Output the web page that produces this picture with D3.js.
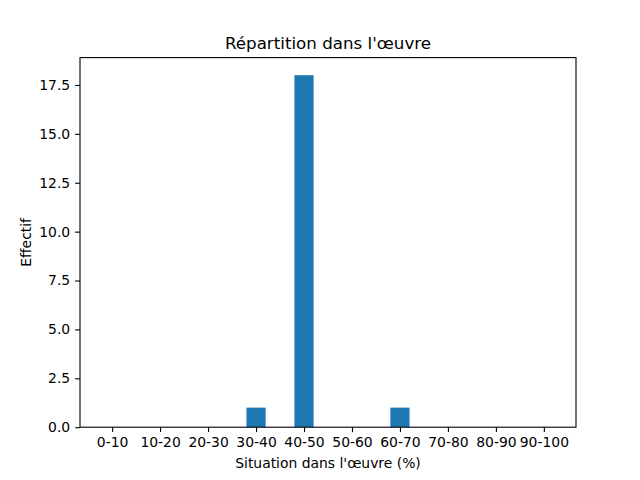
<!DOCTYPE html>
<html>
<head>
<meta charset="utf-8">
<script src="https://cdn.jsdelivr.net/npm/d3@7"></script>
<style>
  body { margin: 0; background: #fff; }
  svg { display: block; }
  text { font-family: 'DejaVu Sans', sans-serif; fill: #000; }
</style>
</head>
<body>
<svg id="chart"></svg>
<script>
// Répartition dans l'œuvre
const categories = ['0-10', '10-20', '20-30', '30-40', '40-50', '50-60', '60-70', '70-80', '80-90', '90-100'];
const counts = [0, 0, 0, 1, 18, 0, 1, 0, 0, 0];
const yTicks = [0, 2.5, 5, 7.5, 10, 12.5, 15, 17.5];

const W = 640, H = 480;
const mLeft = 80, mRight = 576, mTop = 57.6, mBottom = 427.2;
const barW = 0.4;

const svg = d3.select('#chart').attr('width', W).attr('height', H);
svg.append('rect').attr('width', W).attr('height', H).attr('fill', '#fff');

// marges de 5 % comme matplotlib
const xMin = -barW / 2, xMax = categories.length - 1 + barW / 2;
const xPad = (xMax - xMin) * 0.05;
const x = d3.scaleLinear().domain([xMin - xPad, xMax + xPad]).range([mLeft, mRight]);
const yMax = d3.max(counts) * 1.05;
const y = d3.scaleLinear().domain([0, yMax]).range([mBottom, mTop]);

// barres
svg.append('g')
  .selectAll('rect')
  .data(counts)
  .join('rect')
  .attr('x', (d, i) => x(i - barW / 2))
  .attr('width', (d, i) => x(i + barW / 2) - x(i - barW / 2))
  .attr('y', d => y(d))
  .attr('height', d => y(0) - y(d))
  .attr('fill', '#1f77b4');

// axes
const xAxis = d3.axisBottom(x)
  .tickValues(d3.range(categories.length))
  .tickFormat(i => categories[i])
  .tickSizeOuter(0).tickSize(4.9).tickPadding(4.9);
const gx = svg.append('g').attr('transform', `translate(0,${mBottom})`).call(xAxis);

const yAxis = d3.axisLeft(y)
  .tickValues(yTicks)
  .tickFormat(d3.format('.1f'))
  .tickSizeOuter(0).tickSize(4.9).tickPadding(4.9);
const gy = svg.append('g').attr('transform', `translate(${mLeft},0)`).call(yAxis);

[gx, gy].forEach(g => {
  g.select('.domain').remove();
  g.selectAll('.tick line').attr('stroke', '#000').attr('stroke-width', 1.1);
  g.selectAll('.tick text').attr('font-size', '13.9px').attr('font-family', 'DejaVu Sans, sans-serif');
});

// cadre
svg.append('rect')
  .attr('x', mLeft).attr('y', mTop)
  .attr('width', mRight - mLeft).attr('height', mBottom - mTop)
  .attr('fill', 'none').attr('stroke', '#000').attr('stroke-width', 1.1);

// titres
svg.append('text')
  .attr('x', (mLeft + mRight) / 2).attr('y', 49)
  .attr('text-anchor', 'middle').attr('font-size', '16.7px')
  .text("Répartition dans l'œuvre");

svg.append('text')
  .attr('x', (mLeft + mRight) / 2).attr('y', 468)
  .attr('text-anchor', 'middle').attr('font-size', '13.9px')
  .text("Situation dans l'œuvre (%)");

svg.append('text')
  .attr('transform', `translate(31,${(mTop + mBottom) / 2}) rotate(-90)`)
  .attr('text-anchor', 'middle').attr('font-size', '13.9px')
  .text('Effectif');
</script>
</body>
</html>
